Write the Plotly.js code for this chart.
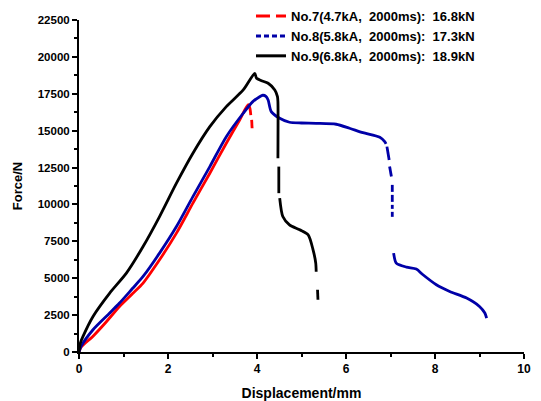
<!DOCTYPE html>
<html>
<head>
<meta charset="utf-8">
<script src="https://cdn.plot.ly/plotly-3.0.1.min.js"></script>
<style>html,body{margin:0;padding:0;background:#fff;}#chart{width:541px;height:401px;}</style>
</head>
<body>
<div id="chart"></div>
<script>
// Series names
const seriesNames = [
  "No.7(4.7kA,\u00a0\u00a02000ms):\u00a0\u00a016.8kN",
  "No.8(5.8kA,\u00a0\u00a02000ms):\u00a0\u00a017.3kN",
  "No.9(6.8kA,\u00a0\u00a02000ms):\u00a0\u00a018.9kN"
];

// No.7 (red) displacement (mm) and force (N); null = gap in drawn line
const no7X = [0, 0.05, 0.31, 0.6, 0.91, 1.2, 1.44, 1.81, 2.19, 2.56, 2.94, 3.31, 3.61, 3.80, 3.84, 3.86, null, 3.88, 3.89];
const no7Y = [0, 350, 1056, 2000, 3087, 3950, 4671, 6249, 8056, 10087, 12118, 14149, 15727, 16760, 16520, 16060, null, 15730, 15165];

// No.8 (blue)
const no8X = [0, 0.05, 0.315, 0.69, 0.91, 1.2, 1.44, 1.81, 2.19, 2.56, 2.94, 3.31, 3.69, 3.9, 4.06, 4.13, 4.2, 4.25, 4.32, 4.51, 4.73, 5.0, 5.33, 5.78, 6.08, 6.38, 6.76, 6.87, 6.9, null, 6.92, 6.97, null, 6.98, 7.02, null, 7.04, 7.04, null, 7.04, 7.04, null, 7.04, 7.04, null, 7.04, 7.04, null, 7.07, 7.13, 7.36, 7.58, 7.73, 8.03, 8.33, 8.71, 9.00, 9.12, 9.16];
const no8Y = [0, 400, 1510, 2640, 3317, 4300, 5118, 6702, 8503, 10534, 12565, 14596, 16180, 16950, 17304, 17400, 17330, 17080, 16290, 15840, 15570, 15520, 15500, 15435, 15165, 14867, 14556, 14258, 14100, null, 13919, 13019, null, 12565, 11888, null, 11326, 10852, null, 10649, 10175, null, 9972, 9701, null, 9498, 9160, null, 6702, 6025, 5755, 5619, 5233, 4556, 4103, 3656, 3087, 2640, 2302];

// No.9 (black)
const no9X = [0, 0.03, 0.09, 0.315, 0.69, 1.065, 1.44, 1.81, 2.19, 2.56, 2.94, 3.31, 3.69, 3.95, 3.99, 4.10, 4.25, 4.40, 4.46, 4.47, 4.47, null, 4.49, 4.49, null, 4.51, 4.58, 4.73, 4.96, 5.15, 5.26, 5.32, 5.33, null, 5.36, 5.37];
const no9Y = [0, 600, 1056, 2410, 3994, 5348, 7149, 9180, 11441, 13472, 15273, 16627, 17758, 18888, 18550, 18387, 18211, 17758, 17304, 16966, 13134, null, 12565, 10764, null, 10426, 9180, 8618, 8280, 7941, 6926, 6025, 5436, null, 4218, 3541];

const colors = ["#ff0000", "#0000a8", "#000000"];
const dashes = ["14px,6px", "5px,3px", "solid"];
const xs = [no7X, no8X, no9X];
const ys = [no7Y, no8Y, no9Y];

const traces = [];
for (let i = 0; i < 3; i++) {
  traces.push({
    x: xs[i], y: ys[i], type: "scatter", mode: "lines",
    line: {color: colors[i], width: 2.8, shape: "spline", smoothing: 0.7},
    connectgaps: false, showlegend: false, hoverinfo: "skip"
  });
}
for (let i = 0; i < 3; i++) {
  traces.push({
    x: [null], y: [null], type: "scatter", mode: "lines",
    name: seriesNames[i],
    line: {color: colors[i], width: 3, dash: dashes[i]}
  });
}

const fontFam = "Arial, 'Liberation Sans', sans-serif";
const layout = {
  width: 541, height: 401,
  margin: {l: 79, r: 17, t: 20, b: 49, pad: 0, autoexpand: false},
  paper_bgcolor: "#fff", plot_bgcolor: "#fff",
  font: {family: fontFam, color: "#000"},
  showlegend: true,
  legend: {
    x: 0.3865, y: 1.057, xanchor: "left", yanchor: "top",
    bgcolor: "rgba(0,0,0,0)", borderwidth: 0,
    font: {family: fontFam, size: 13, weight: "bold", color: "#000"},
    tracegroupgap: 0, itemwidth: 30
  },
  xaxis: {
    range: [0, 10], tick0: 0, dtick: 2,
    showgrid: false, zeroline: false,
    showline: true, linecolor: "#000", linewidth: 2,
    ticks: "outside", ticklen: 5, tickwidth: 2, tickcolor: "#000",
    minor: {ticks: "outside", ticklen: 3, tickwidth: 2, tickcolor: "#000", dtick: 1, showgrid: false},
    tickfont: {family: fontFam, size: 12, weight: "bold"},
    title: {text: "Displacement/mm", font: {family: fontFam, size: 14, weight: "bold"}, standoff: 13},
    automargin: false
  },
  yaxis: {
    range: [0, 22500], tick0: 0, dtick: 2500, tickformat: "d",
    showgrid: false, zeroline: false,
    showline: true, linecolor: "#000", linewidth: 2,
    ticks: "outside", ticklen: 5, tickwidth: 2, tickcolor: "#000",
    minor: {ticks: "outside", ticklen: 3, tickwidth: 2, tickcolor: "#000", dtick: 1250, showgrid: false},
    tickfont: {family: fontFam, size: 11.5, weight: "bold"},
    title: {text: "Force/N", font: {family: fontFam, size: 13, weight: "bold"}, standoff: 12},
    automargin: false
  }
};

Plotly.newPlot("chart", traces, layout, {staticPlot: true, displayModeBar: false});
</script>
</body>
</html>
